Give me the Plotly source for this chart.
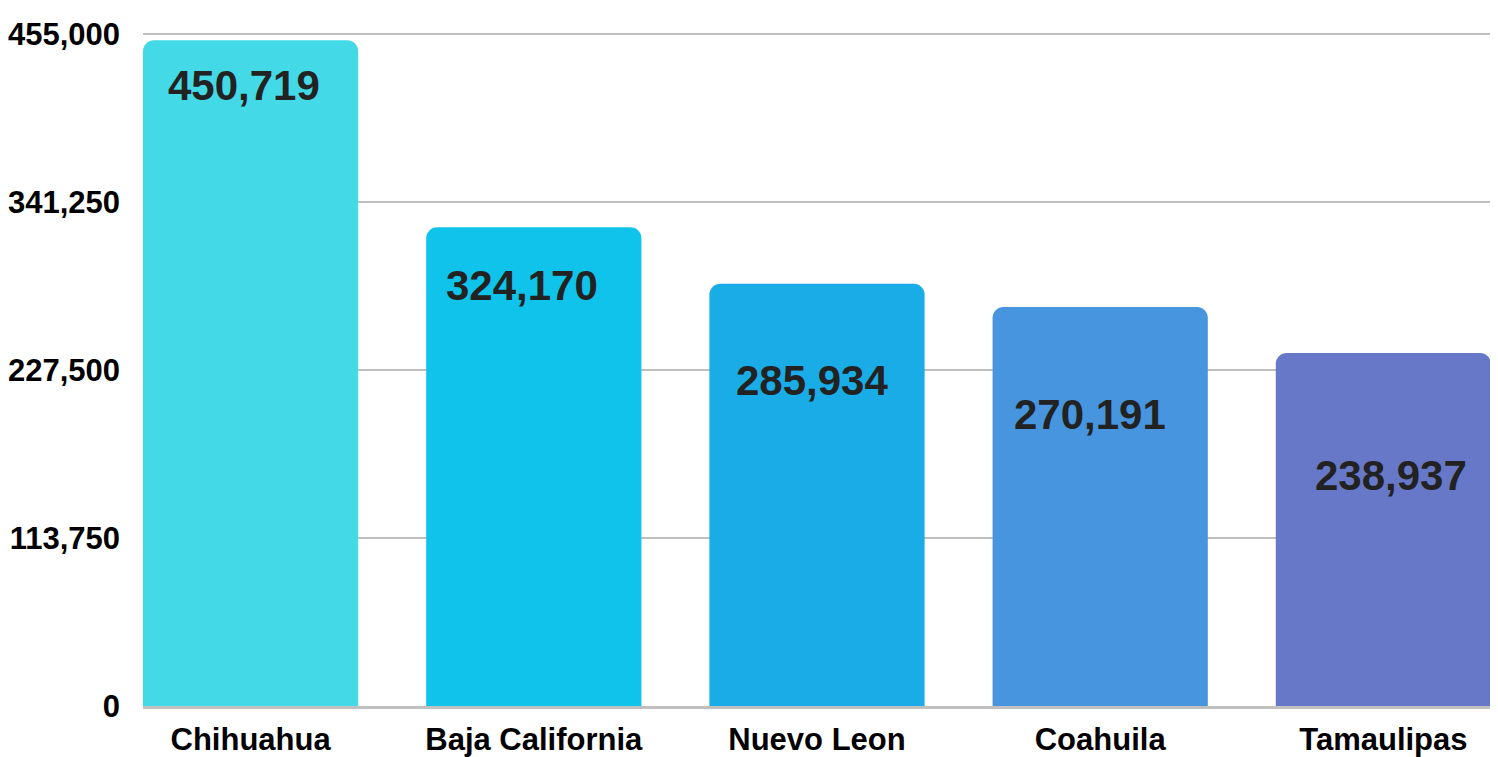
import plotly.graph_objects as go

states = ["Chihuahua", "Baja California", "Nuevo Leon", "Coahuila", "Tamaulipas"]
values = [450719, 324170, 285934, 270191, 238937]
tick_values = [0, 113750, 227500, 341250, 455000]
tick_labels = ["0", "113,750", "227,500", "341,250", "455,000"]

colors = ["#44D9E6", "#0FC3EA", "#19ACE6", "#4794DF", "#6878C8"]
# where each value label sits relative to the top of its bar (pixels)
label_dx = [-7, -12, -5, -10, 8]
label_dy = [-45, -58, -97, -108, -122]

fig = go.Figure()
fig.add_trace(go.Bar(
    x=states,
    y=values,
    marker=dict(color=colors, line=dict(width=0)),
    hoverinfo="x+y",
))

for state, value, dx, dy in zip(states, values, label_dx, label_dy):
    fig.add_annotation(
        x=state, y=value, text=f"{value:,}",
        showarrow=False, xshift=dx, yshift=dy,
        xanchor="center", yanchor="middle",
        font=dict(family="Liberation Sans", size=42, color="#222222", weight="bold"),
    )

# the page body adds an 8px margin, so the figure is 8px smaller and shifted;
# the y range goes a bit past the top tick so its gridline is drawn
fig.update_layout(
    width=1490,
    height=749,
    margin=dict(l=135, r=7, t=23, b=51),
    paper_bgcolor="white",
    plot_bgcolor="white",
    bargap=0.24,
    barcornerradius=11,
    showlegend=False,
    font=dict(family="Liberation Sans", size=31, color="#000000", weight="bold"),
)
fig.update_xaxes(
    range=[-0.38, 4.38],
    automargin=False,
    showgrid=False,
    showline=True,
    linecolor="#C0C0C0",
    linewidth=3,
    ticks="",
    ticklabelstandoff=4,
    tickfont=dict(size=31, color="#000000", weight="bold"),
)
fig.update_yaxes(
    range=[0, 457000],
    automargin=False,
    tickvals=tick_values,
    ticktext=tick_labels,
    showgrid=True,
    gridcolor="#C0C0C0",
    gridwidth=2,
    zeroline=False,
    ticks="",
    ticklabelstandoff=22,
    tickfont=dict(size=31, color="#000000", weight="bold"),
)

fig.write_html("out.html")
